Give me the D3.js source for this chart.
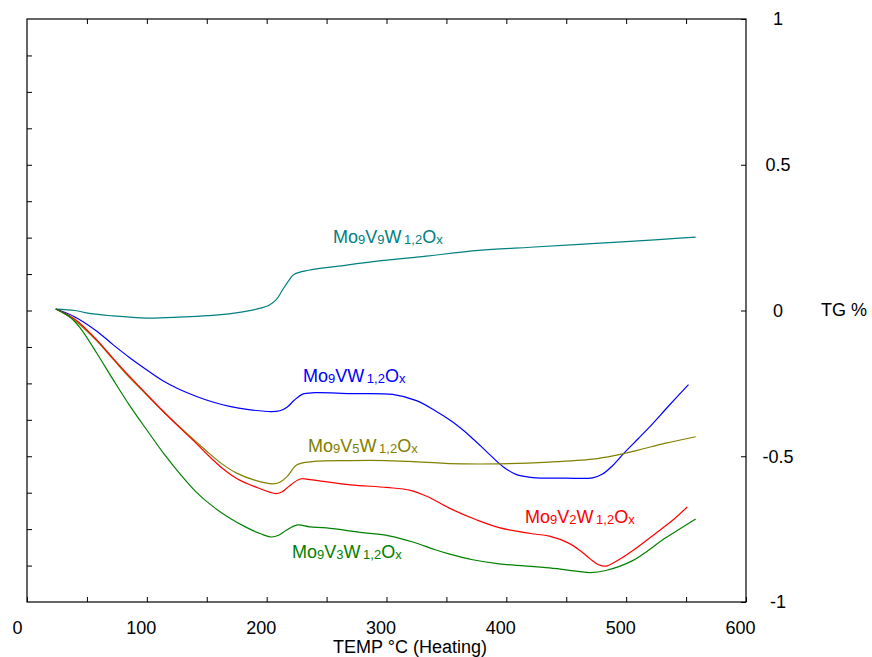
<!DOCTYPE html>
<html>
<head>
<meta charset="utf-8">
<script src="https://cdn.jsdelivr.net/npm/d3@7"></script>
<style>
  html, body { margin: 0; padding: 0; background: #fff; }
  svg text { font-family: "Liberation Sans", Arial, sans-serif; }
</style>
</head>
<body>
<svg id="chart" width="872" height="657"></svg>
<script>
// ---- data (temperature °C, TG %) ----
const xTicksMajor = [0, 100, 200, 300, 400, 500, 600];
const yTicksRight = [1, 0.5, 0, -0.5, -1];
const yTickLabels = ["1", "0.5", "0", "-0.5", "-1"];

const tealV9 = [[24,0.005],[40,0.0],[52,-0.01],[70,-0.018],[100,-0.026],[130,-0.022],[155,-0.017],[180,-0.005],[195,0.008],[202,0.018],[208,0.037],[213,0.069],[218,0.1],[223,0.124],[235,0.138],[260,0.152],[294,0.17],[330,0.185],[377,0.206],[420,0.217],[461,0.227],[500,0.236],[530,0.244],[558,0.252]];
const blueV1 = [[24,0.005],[40,-0.022],[58,-0.07],[72,-0.118],[86,-0.163],[100,-0.204],[113,-0.24],[127,-0.27],[141,-0.294],[155,-0.314],[169,-0.329],[185,-0.34],[204,-0.347],[211,-0.344],[217,-0.332],[223,-0.308],[230,-0.287],[240,-0.282],[270,-0.285],[305,-0.288],[325,-0.309],[340,-0.342],[355,-0.382],[370,-0.432],[385,-0.49],[397,-0.535],[408,-0.562],[422,-0.573],[450,-0.575],[472,-0.574],[480,-0.562],[488,-0.535],[498,-0.49],[510,-0.44],[519,-0.402],[536,-0.325],[552,-0.254]];
const oliveV5 = [[24,0.005],[40,-0.035],[58,-0.103],[72,-0.168],[86,-0.232],[100,-0.29],[113,-0.344],[127,-0.398],[141,-0.45],[152,-0.49],[163,-0.527],[175,-0.558],[190,-0.582],[205,-0.595],[211,-0.589],[217,-0.57],[225,-0.53],[236,-0.519],[270,-0.515],[300,-0.515],[330,-0.52],[352,-0.525],[394,-0.526],[436,-0.52],[472,-0.51],[490,-0.498],[510,-0.479],[533,-0.455],[558,-0.433]];
const redV2 = [[24,0.005],[40,-0.03],[58,-0.1],[72,-0.165],[86,-0.228],[100,-0.288],[113,-0.343],[127,-0.4],[141,-0.455],[152,-0.5],[163,-0.541],[175,-0.576],[190,-0.604],[208,-0.628],[213,-0.622],[218,-0.605],[228,-0.578],[236,-0.58],[270,-0.598],[300,-0.607],[320,-0.617],[335,-0.64],[352,-0.677],[375,-0.718],[394,-0.745],[420,-0.765],[436,-0.774],[452,-0.798],[462,-0.825],[470,-0.852],[477,-0.872],[483,-0.877],[491,-0.862],[505,-0.825],[525,-0.763],[540,-0.715],[551,-0.674]];
const greenV3 = [[24,0.005],[35,-0.02],[44,-0.058],[58,-0.145],[72,-0.238],[86,-0.328],[100,-0.41],[114,-0.49],[128,-0.562],[141,-0.622],[155,-0.672],[169,-0.712],[183,-0.744],[195,-0.766],[204,-0.777],[210,-0.771],[216,-0.755],[225,-0.736],[236,-0.742],[250,-0.746],[280,-0.762],[302,-0.773],[322,-0.794],[340,-0.82],[352,-0.835],[372,-0.855],[394,-0.869],[436,-0.883],[460,-0.895],[470,-0.899],[483,-0.892],[505,-0.859],[533,-0.78],[558,-0.715]];

const series = [
  {data: tealV9,  color: "#008080", sub1: "9", label: {x: 333, y: 243}},
  {data: blueV1,  color: "#0000ff", sub1: "",  label: {x: 303, y: 382}},
  {data: oliveV5, color: "#808000", sub1: "5", label: {x: 308, y: 452}},
  {data: redV2,   color: "#ff0000", sub1: "2", label: {x: 525, y: 523}},
  {data: greenV3, color: "#008000", sub1: "3", label: {x: 292, y: 558}}
];

// ---- layout ----
const L = 27, R = 746, T = 19, B = 602;
const svg = d3.select("#chart");
const x = d3.scaleLinear().domain([0, 600]).range([L, R]);
const y = d3.scaleLinear().domain([-1, 1]).range([B, T]);

// frame
svg.append("rect").attr("x", L).attr("y", T).attr("width", R - L).attr("height", B - T)
  .attr("fill", "none").attr("stroke", "#000").attr("stroke-width", 1.2);

// bottom axis (ticks inside, labels)
const gx = svg.append("g").attr("transform", `translate(0,${B})`)
  .call(d3.axisBottom(x).tickValues(d3.range(0, 601, 50)).tickSizeInner(-5).tickSizeOuter(0)
    .tickPadding(19).tickFormat(d => xTicksMajor.includes(d) ? String(d) : ""));
gx.select(".domain").remove();
gx.selectAll("text").attr("font-size", 18).attr("fill", "#000")
  .attr("dx", d => d === 0 ? -10 : -6);
gx.selectAll("line").attr("stroke", "#000");

// top axis ticks
const gt = svg.append("g").attr("transform", `translate(0,${T})`)
  .call(d3.axisTop(x).tickValues(d3.range(50, 600, 50)).tickSizeInner(-5).tickSizeOuter(0).tickFormat(""));
gt.select(".domain").remove();

// left axis ticks (no labels)
const gl = svg.append("g").attr("transform", `translate(${L},0)`)
  .call(d3.axisLeft(y).tickValues(d3.range(-7, 8).map(k => k * 0.125)).tickSizeInner(-5).tickSizeOuter(0).tickFormat(""));
gl.select(".domain").remove();

// right axis
const gr = svg.append("g").attr("transform", `translate(${R},0)`)
  .call(d3.axisRight(y).tickValues(yTicksRight).tickSizeInner(-5).tickSizeOuter(0)
    .tickPadding(32).tickFormat((d, i) => yTickLabels[i]));
gr.select(".domain").remove();
gr.selectAll("text").attr("font-size", 18).attr("fill", "#000").attr("text-anchor", "middle");

// axis titles
svg.append("text").attr("x", 410).attr("y", 653).attr("text-anchor", "middle")
  .attr("font-size", 18).text("TEMP °C (Heating)");
svg.append("text").attr("x", 844).attr("y", 316).attr("text-anchor", "middle")
  .attr("font-size", 18).text("TG %");

// lines
const line = d3.line().x(d => x(d[0])).y(d => y(d[1])).curve(d3.curveCatmullRom.alpha(0.5));
series.forEach(s => {
  svg.append("path").datum(s.data).attr("d", line)
    .attr("fill", "none").attr("stroke", s.color).attr("stroke-width", 1.2);
});

// labels with subscripts
series.forEach(s => {
  const t = svg.append("text").attr("x", s.label.x).attr("y", s.label.y)
    .attr("fill", s.color).attr("font-size", 18);
  const parts = [["Mo", false], ["9", true], ["V", false]];
  if (s.sub1) parts.push([s.sub1, true]);
  parts.push(["W", false], ["\u20091,2", true], ["O", false], ["x", true]);
  let prevSub = false;
  parts.forEach(([txt, sub]) => {
    const ts = t.append("tspan").text(txt);
    if (sub) ts.attr("font-size", 13);
    ts.attr("dy", sub && !prevSub ? 1 : (!sub && prevSub ? -1 : 0));
    prevSub = sub;
  });
});
</script>
</body>
</html>
